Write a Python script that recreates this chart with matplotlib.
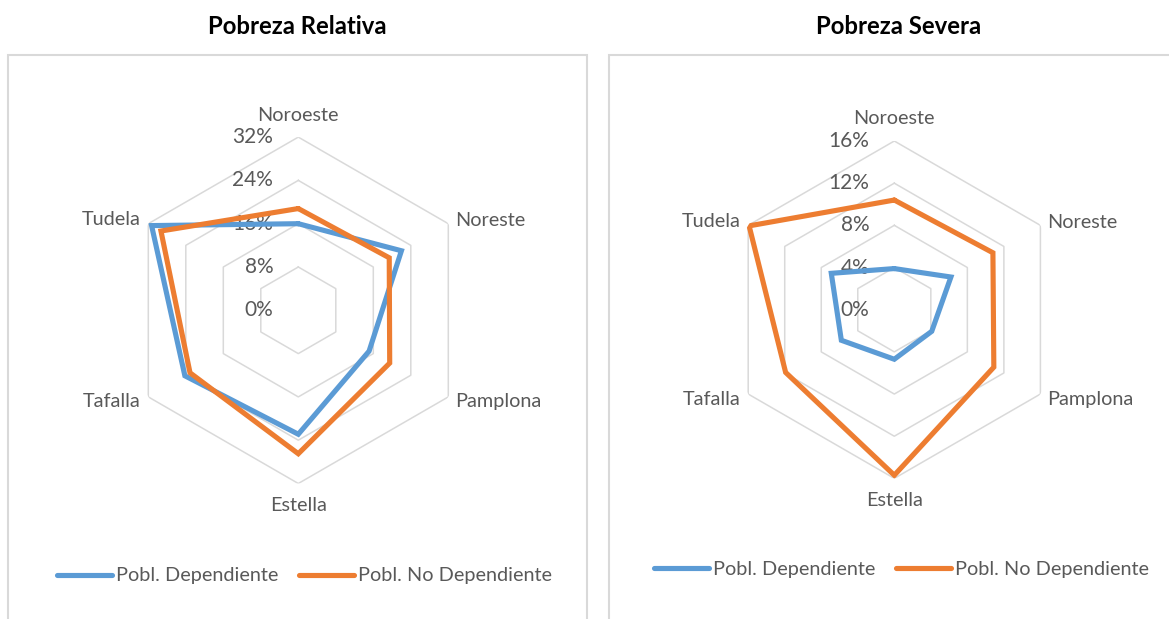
import numpy as np
import matplotlib
matplotlib.use("Agg")
import matplotlib.pyplot as plt
from matplotlib.patches import Rectangle

#-------------------------------------------------------------
# data (percent)
regions = ["Noroeste", "Noreste", "Pamplona", "Estella", "Tafalla", "Tudela"]
series_names = ["Pobl. Dependiente", "Pobl. No Dependiente"]

relativa_dep = [16.0, 22.0, 15.1, 22.9, 24.2, 31.3]
relativa_nodep = [18.8, 19.4, 19.5, 26.5, 23.1, 29.3]
relativa_levels = [0, 8, 16, 24, 32]

severa_dep = [3.9, 6.2, 4.1, 4.7, 5.8, 6.9]
severa_nodep = [10.4, 10.8, 10.9, 15.7, 11.9, 15.9]
severa_levels = [0, 4, 8, 12, 16]

titles = ["Pobreza Relativa", "Pobreza Severa"]

#-------------------------------------------------------------
FONT = "Lato"
TXT = "#595959"
GRID = "#D9D9D9"
COLORS = ["#5B9BD5", "#ED7D31"]
W, H = 1169, 619
FS = 14.3

plt.rcParams["font.family"] = [FONT, "DejaVu Sans"]

# label offsets in pixels (dx, dy, ha)
label_offsets = [(0, 22, "center"), (7, 3, "left"), (7, -5, "left"),
                 (0, -22, "center"), (-8, -5, "right"), (-8, 4, "right")]


def radar(fig, rect, dep, nodep, levels, title_xy, legend_xy, title):
    ax = fig.add_axes(rect, projection="polar")
    ax.set_theta_offset(np.pi / 2)
    ax.set_theta_direction(-1)
    ax.set_ylim(0, levels[-1])
    ax.grid(False)
    ax.set_xticks([])
    ax.set_yticks([])
    ax.spines["polar"].set_visible(False)
    ax.patch.set_alpha(0)

    n = len(regions)
    theta = np.linspace(0, 2 * np.pi, n, endpoint=False)
    tc = np.append(theta, theta[0])

    for lvl in levels[1:]:
        ax.plot(tc, [lvl] * (n + 1), color=GRID, lw=1.1, zorder=1)

    for vals, name, col in zip([dep, nodep], series_names, COLORS):
        ax.plot(tc, list(vals) + [vals[0]], color=col, lw=3.7, label=name,
                solid_joinstyle="miter", solid_capstyle="round", zorder=3)

    for lvl in levels:
        ax.annotate("%d%%" % lvl, xy=(0, lvl), xytext=(-25, 0),
                    textcoords="offset pixels", ha="right", va="center",
                    fontsize=FS + 0.7, color=TXT, zorder=2, annotation_clip=False)

    for t, name, (dx, dy, ha) in zip(theta, regions, label_offsets):
        ax.annotate(name, xy=(t, levels[-1]), xytext=(dx, dy),
                    textcoords="offset pixels", ha=ha, va="center",
                    fontsize=FS, color=TXT, annotation_clip=False)

    fig.text(title_xy[0] / W, 1 - title_xy[1] / H, title, ha="center",
             va="center", fontsize=17.2, fontweight="bold", color="black")

    ax.legend(loc="center", bbox_to_anchor=(legend_xy[0] / W, 1 - legend_xy[1] / H),
              bbox_transform=fig.transFigure, ncol=2, frameon=False,
              fontsize=FS, labelcolor=TXT, handlelength=2.8,
              handletextpad=0.2, columnspacing=1.0)
    return ax


fig = plt.figure(figsize=(W / 100, H / 100), dpi=100)

# chart frames (bottom edge is outside the picture)
fig.patches.append(Rectangle((8 / W, -0.05), (587 - 8) / W, 1.05 - 55 / H,
                             transform=fig.transFigure, fill=False,
                             edgecolor=GRID, lw=1.5))
fig.patches.append(Rectangle((609 / W, -0.05), (1180 - 609) / W, 1.05 - 55 / H,
                             transform=fig.transFigure, fill=False,
                             edgecolor=GRID, lw=1.5))

# left: center (298.3, 310.3) radius 173.2 px
cx, cy, r = 298.3, 310.3, 173.2
radar(fig, [(cx - r) / W, (H - cy - r) / H, 2 * r / W, 2 * r / H],
      relativa_dep, relativa_nodep, relativa_levels,
      (297, 26), (304.5, 576), titles[0])

# right: center (894.3, 309.7) radius 168.7 px
cx, cy, r = 894.3, 309.7, 168.7
radar(fig, [(cx - r) / W, (H - cy - r) / H, 2 * r / W, 2 * r / H],
      severa_dep, severa_nodep, severa_levels,
      (899, 26), (901.5, 569), titles[1])

fig.savefig("out.png", dpi=100)
